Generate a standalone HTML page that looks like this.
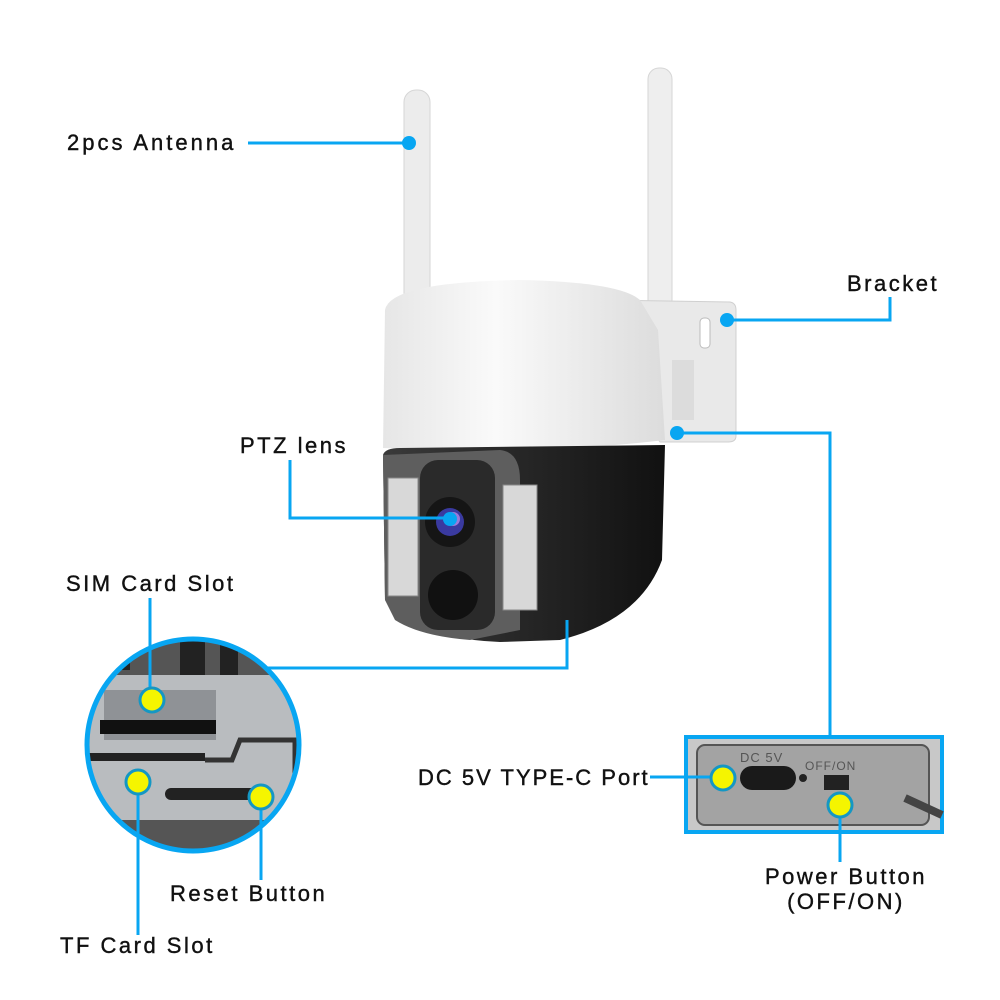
<!DOCTYPE html>
<html><head><style>
html,body{margin:0;padding:0;background:#fff;}
svg{display:block;}
text{font-family:"Liberation Sans",sans-serif;font-size:22px;letter-spacing:2.5px;fill:#111;stroke:#111;stroke-width:0.4px;}
</style></head><body>
<svg width="1000" height="1000" viewBox="0 0 1000 1000" xmlns="http://www.w3.org/2000/svg">
<defs>
<linearGradient id="dome" x1="0" x2="1"><stop offset="0" stop-color="#e6e6e6"/><stop offset="0.4" stop-color="#fafafa"/><stop offset="1" stop-color="#dcdcdc"/></linearGradient>
<linearGradient id="blk" x1="0" x2="1"><stop offset="0" stop-color="#3a3a3a"/><stop offset="0.6" stop-color="#222"/><stop offset="1" stop-color="#111"/></linearGradient>
<clipPath id="cc"><circle cx="193" cy="745" r="106"/></clipPath>
</defs>
<rect x="404" y="90" width="26" height="215" rx="12" fill="#ececec" stroke="#d6d6d6"/>
<rect x="648" y="68" width="24" height="290" rx="11" fill="#eeeeee" stroke="#d6d6d6"/>
<path d="M605 300 L730 302 Q736 303 736 310 L736 436 Q736 442 728 442 L660 442 L600 360 Z" fill="#e9e9e9" stroke="#d0d0d0"/>
<rect x="700" y="318" width="10" height="30" rx="4" fill="#fff" stroke="#bbb"/>
<rect x="672" y="360" width="22" height="60" fill="#dcdcdc"/>
<path d="M385 310 Q390 282 520 280 Q620 282 640 300 L658 330 L665 440 Q540 455 383 448 Z" fill="url(#dome)"/>
<path d="M383 455 Q385 448 400 448 L665 445 L662 560 Q640 620 560 640 L500 642 Q440 640 400 615 L385 600 Z" fill="url(#blk)"/>
<path d="M383 455 L500 450 Q520 452 520 480 L520 630 L470 640 Q420 636 395 620 L385 600 Z" fill="#5e5e5e"/>
<rect x="420" y="460" width="75" height="170" rx="18" fill="#2a2a2a"/>
<circle cx="450" cy="522" r="25" fill="#151515"/><circle cx="450" cy="522" r="14" fill="#3a3aa0"/><circle cx="453" cy="519" r="7" fill="#9b7ad8"/>
<circle cx="453" cy="595" r="25" fill="#111"/>
<rect x="388" y="478" width="30" height="118" fill="#d8d8d8" stroke="#888"/>
<rect x="503" y="485" width="34" height="125" fill="#d8d8d8" stroke="#888"/>
<g clip-path="url(#cc)">
<rect x="80" y="630" width="230" height="240" fill="#b9bcbf"/>
<rect x="80" y="630" width="230" height="45" fill="#555"/>
<rect x="110" y="630" width="20" height="40" fill="#222"/><rect x="180" y="630" width="25" height="45" fill="#222"/><rect x="220" y="630" width="18" height="45" fill="#222"/>
<rect x="104" y="690" width="112" height="50" fill="#8f9296"/>
<rect x="100" y="720" width="116" height="14" fill="#111"/>
<rect x="85" y="753" width="120" height="8" fill="#222"/>
<path d="M205 760 L232 760 L240 740 L295 740 L295 780" fill="none" stroke="#333" stroke-width="5"/>
<rect x="165" y="788" width="100" height="12" rx="6" fill="#222"/>
<rect x="80" y="820" width="230" height="50" fill="#555"/>
</g>
<circle cx="193" cy="745" r="106" fill="none" stroke="#08a6f2" stroke-width="5"/>
<rect x="686" y="737" width="256" height="95" fill="#c8c8c8" stroke="#08a6f2" stroke-width="4"/>
<rect x="697" y="745" width="232" height="80" rx="8" fill="#a3a3a3" stroke="#555" stroke-width="2"/>
<rect x="740" y="766" width="56" height="24" rx="12" fill="#1a1a1a"/>
<circle cx="803" cy="778" r="4" fill="#222"/>
<rect x="824" y="775" width="25" height="15" fill="#222"/>
<text x="740" y="762" style="font-size:13px;fill:#555;stroke:none;letter-spacing:1px">DC 5V</text>
<text x="805" y="770" style="font-size:12px;fill:#555;stroke:none;letter-spacing:1px">OFF/ON</text>
<line x1="905" y1="798" x2="942" y2="815" stroke="#444" stroke-width="8"/>
<g stroke="#08a6f2" stroke-width="3" fill="none">
<path d="M248 143 L409 143"/>
<path d="M727 320 L890 320 L890 297"/>
<path d="M677 433 L830 433 L830 737"/>
<path d="M290 460 L290 518 L450 518"/>
<path d="M567 620 L567 668 L265 668"/>
<path d="M150 598 L150 700"/>
<path d="M138 782 L138 935"/>
<path d="M261 797 L261 880"/>
<path d="M650 777 L722 777"/>
<path d="M840 805 L840 862"/>
</g>
<g fill="#08a6f2">
<circle cx="409" cy="143" r="7"/><circle cx="727" cy="320" r="7"/><circle cx="677" cy="433" r="7"/><circle cx="450" cy="519" r="7"/>
</g>
<g fill="#f5f500" stroke="#1497c4" stroke-width="3">
<circle cx="152" cy="700" r="12"/><circle cx="138" cy="782" r="12"/><circle cx="261" cy="797" r="12"/>
<circle cx="723" cy="778" r="12"/><circle cx="840" cy="805" r="12"/>
</g>
<text x="67" y="150" style="letter-spacing:3px">2pcs Antenna</text>
<text x="847" y="291">Bracket</text>
<text x="240" y="453">PTZ lens</text>
<text x="66" y="591">SIM Card Slot</text>
<text x="418" y="785" style="letter-spacing:2px">DC 5V TYPE-C Port</text>
<text x="846" y="884" text-anchor="middle">Power Button</text>
<text x="846" y="909" text-anchor="middle">(OFF/ON)</text>
<text x="170" y="901">Reset Button</text>
<text x="60" y="953">TF Card Slot</text>
</svg>
</body></html>
